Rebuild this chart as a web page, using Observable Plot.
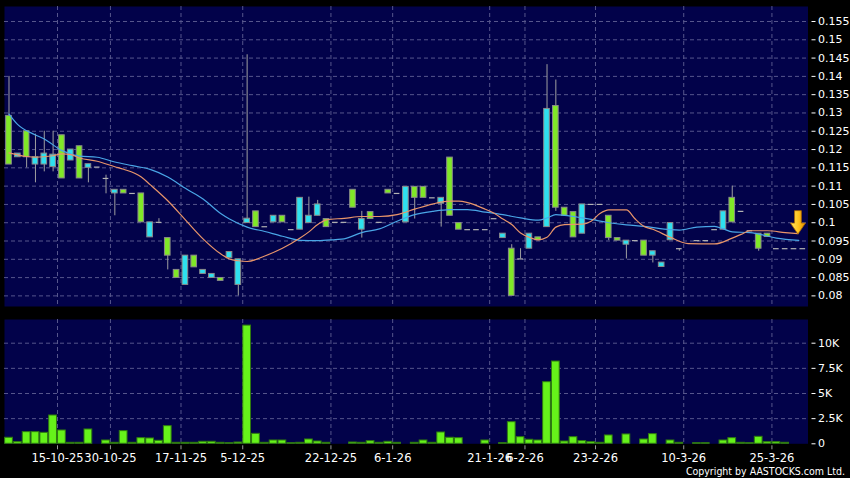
<!DOCTYPE html>
<html><head><meta charset="utf-8">
<script src="https://cdn.jsdelivr.net/npm/d3@7"></script>
<script src="https://cdn.jsdelivr.net/npm/@observablehq/plot@0.6"></script>
<style>
html,body{margin:0;padding:0;background:#000;}
#chart{position:relative;width:850px;height:478px;background:#000;overflow:hidden;}
#chart svg{display:block;}
#copy{position:absolute;right:5px;top:465px;line-height:12px;color:#fff;font-size:10.5px;font-family:"DejaVu Sans Condensed","DejaVu Sans",sans-serif;white-space:nowrap;}
</style></head><body>
<div id="chart"><div id="copy">Copyright by AASTOCKS.com Ltd.</div></div>
<script>
// ---- data (one entry per chart slot, left to right) ----
const opens  = [.1159,.1189,.1179,.1179,.1189,.1186,.1121,.1200,.1121,.1160,
                .1152,.1121,.1090,.1080,.1080,.1001,.1001,.1001,.0910,.0849,
                .0910,.0878,.0871,.0860,.0841,.0920,.0900,.1011,.0988,.0989,
                .1019,.1001,.0981,.1068,.1019,.1050,.0988,.1001,.1001,.1041,
                .1010,.1010,.1001,.1080,.1080,.1098,.1068,.1068,.1068,.1068,
                .1019,.0981,.0981,.0981,.0981,.1011,.0970,.0800,.0901,.0970,
                .0952,.1311,.1041,.1019,.0960,.1050,.1050,.1050,.0958,.0951,
                .0951,.0951,.0910,.0922,.0891,.0999,.0929,null,.0951,.0951,
                .0981,.1031,.1001,.1031,.0978,.0929,.0961,.0929,.0929,.0929,.0929];
const highs  = [.1400,.1189,.1250,.1242,.1250,.1250,.1239,.1200,.1209,.1160,
                .1152,.1130,.1090,.1090,.1080,.1080,.1001,.1011,.0958,.0871,
                .0910,.0910,.0871,.0860,.0849,.0920,.0900,.1459,.1031,.0989,
                .1019,.1019,.0981,.1068,.1070,.1061,.1010,.1001,.1001,.1090,
                .1031,.1029,.1001,.1090,.1080,.1098,.1098,.1098,.1068,.1068,
                .1178,.0999,.0981,.0981,.0981,.1011,.0970,.0940,.0929,.0970,
                .0960,.1432,.1390,.1041,.1029,.1050,.1050,.1050,.1019,.0958,
                .0951,.0951,.0951,.0922,.0891,.0999,.0929,null,.0951,.0951,
                .0981,.1031,.1100,.1031,.0978,.0970,.0970,.0929,.0929,.0929,.0929];
const lows   = [.1159,.1179,.1150,.1109,.1139,.1139,.1121,.1170,.1121,.1109,
                .1152,.1079,.1019,.1080,.1080,.1001,.0960,.1001,.0871,.0849,
                .0830,.0878,.0860,.0849,.0841,.0903,.0800,.0999,.0988,.0989,
                .1001,.1001,.0981,.0981,.0999,.1019,.0988,.1001,.1001,.1041,
                .0958,.1010,.1001,.1080,.1080,.1001,.1010,.1068,.1068,.0988,
                .1019,.0981,.0981,.0981,.0981,.1011,.0958,.0800,.0901,.0929,
                .0952,.0988,.1031,.1019,.0960,.0970,.1050,.1050,.0951,.0951,
                .0901,.0951,.0910,.0890,.0879,.0952,.0922,null,.0951,.0951,
                .0981,.0981,.1001,.1031,.0978,.0922,.0961,.0929,.0929,.0929,.0929];
const closes = [.1292,.1179,.1250,.1159,.1159,.1152,.1239,.1170,.1209,.1150,
                .1152,.1121,.1080,.1090,.1080,.1080,.0960,.1001,.0958,.0871,
                .0830,.0910,.0860,.0849,.0849,.0903,.0830,.0999,.1031,.0989,
                .1001,.1019,.0981,.0981,.0999,.1019,.1010,.1001,.1001,.1090,
                .0981,.1029,.1001,.1090,.1080,.1001,.1098,.1098,.1068,.1052,
                .1178,.0999,.0981,.0981,.0981,.1011,.0958,.0929,.0901,.0929,
                .0960,.0988,.1319,.1041,.1029,.0970,.1050,.1050,.1019,.0958,
                .0940,.0951,.0951,.0910,.0879,.0952,.0929,null,.0951,.0951,
                .0981,.0981,.1068,.1031,.0978,.0970,.0970,.0929,.0929,.0929,.0929];
const volumes = [600,170,1160,1160,1090,2815,1325,100,100,1425,
                 0,330,100,1260,100,560,530,300,1755,100,
                 100,100,200,200,100,60,130,11750,990,100,
                 330,330,60,100,430,230,100,0,0,130,
                 100,260,100,200,100,0,100,330,100,1125,
                 600,560,0,0,330,0,60,2150,660,400,
                 330,6125,8180,230,660,265,165,100,830,0,
                 930,0,430,960,0,330,100,0,60,60,
                 0,330,560,100,60,695,165,165,100,0,0];
const ma10Slots  = [0,2,3,5,6,7,8,10,12,13,15,16,18,20,22,24,25,26,27,29,31,33,34,35,36,38,40,42,44,46,48,50,51,52,54,55,56,57,58,59,60,61,62,63,65,66,67,68,70,71,72,73,75,77,80,82,83,84,86,88,89.45];
const ma10Values = [.1191,.1181,.1179,.1183,.1188,.1186,.1177,.1168,.1153,.1146,.1125,.1104,.1060,.1008,.0956,.0915,.0901,.0896,.0894,.0909,.0930,.0958,.0975,.0995,.1008,.1012,.1017,.1017,.1022,.1037,.1051,.1059,.1059,.1055,.1037,.1026,.1010,.0995,.0972,.0960,.0953,.0960,.0988,.0995,.0996,.1004,.1025,.1035,.1035,.1010,.0990,.0982,.0960,.0943,.0942,.0958,.0968,.0978,.0978,.0973,.0970];
const ma20Slots  = [0,1,3,4,6,8,10,12,14,16,18,19,20,22,24,25,27,29,31,33,35,37,38,40,42,44,46,48,50,52,54,56,58,60,61,62,63,65,66,68,70,72,75,76,78,80,81,82,84,85,87,89.55];
const ma20Values = [.1297,.1268,.1240,.1229,.1197,.1182,.1179,.1166,.1156,.1146,.1125,.1110,.1094,.1065,.1025,.1010,.0988,.0976,.0963,.0952,.0951,.0954,.0956,.0973,.0983,.1004,.1022,.1031,.1036,.1036,.1029,.1022,.1013,.1007,.1013,.1022,.1020,.1013,.1009,.1000,.0994,.0990,.0981,.0980,.0988,.0990,.0983,.0975,.0973,.0969,.0958,.0952];
const dateLabels = ["15-10-25","30-10-25","17-11-25","5-12-25","22-12-25","6-1-26","21-1-26","6-2-26","23-2-26","10-3-26","25-3-26"];
const dateSlots  = [6,12,20,27,37,44,55,59,67,77,87];
const priceTicks = [0.08,0.085,0.09,0.095,0.1,0.105,0.11,0.115,0.12,0.125,0.13,0.135,0.14,0.145,0.15,0.155];
const volTicks = [0,2500,5000,7500,10000];
const volTickLabels = ["0","2.5K","5K","7.5K","10K"];
const arrowMarker = [{slot: 89.45, price: 0.1001}];

// ---- styles ----
const NAVY = "#02024a", GRID = "#56568c", UP = "#80e827", DOWN = "#2ee0ef";
const xDomain = [-0.51, 90.59];

const candles = opens.map((o, i) => ({i, o, h: highs[i], l: lows[i], c: closes[i]})).filter(d => d.o != null);
const bodies = candles.filter(d => d.o !== d.c);
const flats = candles.filter(d => d.o === d.c);
const wicks = candles.filter(d => d.h > d.l);
const ma10 = ma10Slots.map((s, k) => ({s, v: ma10Values[k]}));
const ma20 = ma20Slots.map((s, k) => ({s, v: ma20Values[k]}));
const vols = volumes.map((v, i) => ({i, v})).filter(d => d.v > 0);
const gridX = dateSlots.map(s => s - 0.5);
const dateLabelAt = new Map(dateSlots.map((s, k) => [s - 0.5, dateLabels[k]]));
const volLabelAt = new Map(volTicks.map((t, k) => [t, volTickLabels[k]]));

const arrowSymbol = {
  draw(ctx, size) {
    const r = Math.sqrt(size / Math.PI);
    ctx.moveTo(-0.45 * r, -1.56 * r);
    ctx.lineTo(0.45 * r, -1.56 * r);
    ctx.lineTo(0.45 * r, 0.1 * r);
    ctx.lineTo(r, 0.1 * r);
    ctx.lineTo(0, 1.56 * r);
    ctx.lineTo(-r, 0.1 * r);
    ctx.lineTo(-0.45 * r, 0.1 * r);
    ctx.closePath();
  }
};

const baseStyle = {background: "#000", color: "#fff", fontFamily: "DejaVu Sans, sans-serif", fontSize: "11px"};

const topPlot = Plot.plot({
  width: 850, height: 312,
  marginTop: 6, marginBottom: 6, marginLeft: 4, marginRight: 42.5,
  style: baseStyle,
  x: {domain: xDomain, axis: null},
  y: {domain: [0.0771, 0.1591], axis: null},
  marks: [
    Plot.frame({fill: NAVY, stroke: null}),
    Plot.ruleY(priceTicks, {stroke: GRID, strokeDasharray: "4,3"}),
    Plot.ruleX(gridX, {stroke: GRID, strokeDasharray: "4,3"}),
    Plot.ruleX(wicks, {x: "i", y1: "l", y2: "h", stroke: "#a0a0a0"}),
    Plot.rect(bodies, {x1: d => d.i - 0.32, x2: d => d.i + 0.32, y1: "o", y2: "c",
      fill: d => d.c > d.o ? UP : DOWN, stroke: "#8a8a8a", strokeWidth: 1}),
    Plot.ruleY(flats, {y: "c", x1: d => d.i - 0.32, x2: d => d.i + 0.32, stroke: "#b4b4b4", strokeWidth: 1.2}),
    Plot.line(ma20, {x: "s", y: "v", stroke: "#4aa6e6", strokeWidth: 1.2, curve: "monotone-x"}),
    Plot.line(ma10, {x: "s", y: "v", stroke: "#e8956a", strokeWidth: 1.2, curve: "monotone-x"}),
    Plot.dot(arrowMarker, {x: "slot", y: "price", r: 7.5, symbol: arrowSymbol, fill: "url(#arrowGrad)", stroke: "#b06a00", strokeWidth: 0.8}),
    Plot.axisY(priceTicks, {anchor: "right", label: null, tickSize: 4, tickPadding: 3, dx: 3, tickFormat: d => String(d), fontSize: 11})
  ]
});

const bottomPlot = Plot.plot({
  width: 850, height: 166,
  marginTop: 7, marginBottom: 34.7, marginLeft: 4, marginRight: 42.5,
  style: baseStyle,
  x: {domain: xDomain, axis: null},
  y: {domain: [0, 12356], axis: null},
  marks: [
    Plot.frame({fill: NAVY, stroke: null}),
    Plot.ruleY(volTicks.filter(t => t > 0), {stroke: GRID, strokeDasharray: "4,3"}),
    Plot.ruleX(gridX, {stroke: GRID, strokeDasharray: "4,3"}),
    Plot.rectY(vols, {x1: d => d.i - 0.44, x2: d => d.i + 0.44, y: "v", fill: "#66f21a", stroke: "#2f7a10", strokeWidth: 1}),
    Plot.axisY(volTicks, {anchor: "right", label: null, tickSize: 4, tickPadding: 3, dx: 3, tickFormat: d => volLabelAt.get(d), fontSize: 11}),
    Plot.axisX(gridX, {anchor: "bottom", label: null, tickSize: 4, tickPadding: 4, dy: 2, stroke: "#9a9a9a", tickFormat: d => dateLabelAt.get(d), fontSize: 11.5})
  ]
});

const chart = document.getElementById("chart");
chart.insertBefore(bottomPlot, chart.firstChild);
chart.insertBefore(topPlot, chart.firstChild);

// gradient for the arrow marker
const defs = d3.select(topPlot).insert("defs", ":first-child");
const grad = defs.append("linearGradient").attr("id", "arrowGrad").attr("x1", "0").attr("x2", "1").attr("y1", "0").attr("y2", "0");
grad.append("stop").attr("offset", "0%").attr("stop-color", "#ffe86a");
grad.append("stop").attr("offset", "55%").attr("stop-color", "#ffc21a");
grad.append("stop").attr("offset", "100%").attr("stop-color", "#e08a00");
</script>
</body></html>
